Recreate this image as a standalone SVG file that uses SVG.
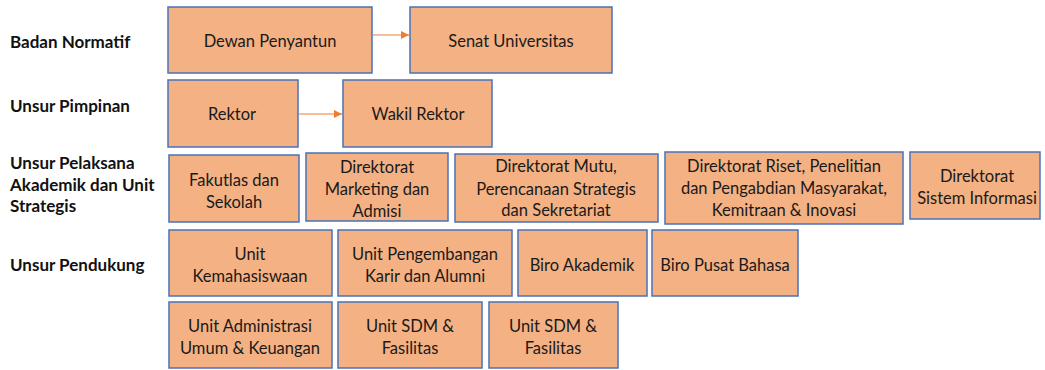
<svg xmlns="http://www.w3.org/2000/svg" width="1045" height="370" viewBox="0 0 1045 370">
  <style>
    .box { fill: #F4B183; stroke: #4A72B8; stroke-width: 1.5; }
    .t { font-family: Lato, "Open Sans", sans-serif; font-size: 16.5px; fill: #1a1a1a; text-anchor: middle; }
    .lbl { font-family: Lato, "Open Sans", sans-serif; font-size: 17px; font-weight: bold; fill: #111; }
    .conn { stroke: #ED7D31; stroke-width: 1; fill: none; }
  </style>
  <defs>
    <marker id="arr" viewBox="0 0 10 10" refX="10" refY="5" markerWidth="8" markerHeight="8" markerUnits="userSpaceOnUse" orient="auto">
      <path d="M0,0 L10,5 L0,10 z" fill="#ED7D31"/>
    </marker>
  </defs>

  <!-- row headings -->
  <g id="headings">
    <text class="lbl" x="10" y="48">Badan Normatif</text>
    <text class="lbl" x="10" y="112">Unsur Pimpinan</text>
    <text class="lbl" x="10" y="169">Unsur Pelaksana</text>
    <text class="lbl" x="10" y="191">Akademik dan Unit</text>
    <text class="lbl" x="10" y="212">Strategis</text>
    <text class="lbl" x="10" y="271">Unsur Pendukung</text>
  </g>

  <!-- connectors -->
  <g id="connectors">
    <line class="conn" x1="373" y1="35" x2="409" y2="35" marker-end="url(#arr)"/>
    <line class="conn" x1="299" y1="114" x2="342" y2="114" marker-end="url(#arr)"/>
  </g>

  <!-- Badan Normatif -->
  <g id="dewan-penyantun">
    <rect class="box" x="168" y="7" width="204" height="66"/>
    <text class="t" x="270" y="47">Dewan Penyantun</text>
  </g>
  <g id="senat-universitas">
    <rect class="box" x="410" y="7" width="202" height="66"/>
    <text class="t" x="511" y="47">Senat Universitas</text>
  </g>

  <!-- Unsur Pimpinan -->
  <g id="rektor">
    <rect class="box" x="168" y="80" width="130" height="67"/>
    <text class="t" x="232" y="120">Rektor</text>
  </g>
  <g id="wakil-rektor">
    <rect class="box" x="343" y="80" width="149" height="67"/>
    <text class="t" x="418" y="120">Wakil Rektor</text>
  </g>

  <!-- Unsur Pelaksana Akademik dan Unit Strategis -->
  <g id="fakultas-sekolah">
    <rect class="box" x="169" y="155" width="130" height="67"/>
    <text class="t" x="234" y="186">Fakutlas dan</text>
    <text class="t" x="234" y="208">Sekolah</text>
  </g>
  <g id="dir-marketing">
    <rect class="box" x="306" y="153" width="142" height="68"/>
    <text class="t" x="377" y="173">Direktorat</text>
    <text class="t" x="377" y="195">Marketing dan</text>
    <text class="t" x="377" y="217">Admisi</text>
  </g>
  <g id="dir-mutu">
    <rect class="box" x="455" y="154" width="203" height="68"/>
    <text class="t" x="556" y="172">Direktorat Mutu,</text>
    <text class="t" x="556" y="195">Perencanaan Strategis</text>
    <text class="t" x="556" y="216">dan Sekretariat</text>
  </g>
  <g id="dir-riset">
    <rect class="box" x="665" y="152" width="238" height="72"/>
    <text class="t" x="784" y="172">Direktorat Riset, Penelitian</text>
    <text class="t" x="784" y="194">dan Pengabdian Masyarakat,</text>
    <text class="t" x="784" y="216">Kemitraan &amp; Inovasi</text>
  </g>
  <g id="dir-sistem-informasi">
    <rect class="box" x="910" y="152" width="130" height="67"/>
    <text class="t" x="977" y="182">Direktorat</text>
    <text class="t" x="977" y="204">Sistem Informasi</text>
  </g>

  <!-- Unsur Pendukung -->
  <g id="unit-kemahasiswaan">
    <rect class="box" x="169" y="230" width="163" height="66"/>
    <text class="t" x="250" y="260">Unit</text>
    <text class="t" x="250" y="282">Kemahasiswaan</text>
  </g>
  <g id="unit-karir-alumni">
    <rect class="box" x="338" y="230" width="174" height="66"/>
    <text class="t" x="425" y="260">Unit Pengembangan</text>
    <text class="t" x="425" y="282">Karir dan Alumni</text>
  </g>
  <g id="biro-akademik">
    <rect class="box" x="518" y="230" width="129" height="66"/>
    <text class="t" x="582" y="271">Biro Akademik</text>
  </g>
  <g id="biro-pusat-bahasa">
    <rect class="box" x="652" y="230" width="146" height="66"/>
    <text class="t" x="725" y="271">Biro Pusat Bahasa</text>
  </g>
  <g id="unit-administrasi">
    <rect class="box" x="169" y="302" width="163" height="66"/>
    <text class="t" x="250" y="332">Unit Administrasi</text>
    <text class="t" x="250" y="354">Umum &amp; Keuangan</text>
  </g>
  <g id="unit-sdm-1">
    <rect class="box" x="338" y="302" width="144" height="66"/>
    <text class="t" x="410" y="332">Unit SDM &amp;</text>
    <text class="t" x="410" y="354">Fasilitas</text>
  </g>
  <g id="unit-sdm-2">
    <rect class="box" x="489" y="302" width="129" height="66"/>
    <text class="t" x="553" y="332">Unit SDM &amp;</text>
    <text class="t" x="553" y="354">Fasilitas</text>
  </g>
</svg>
